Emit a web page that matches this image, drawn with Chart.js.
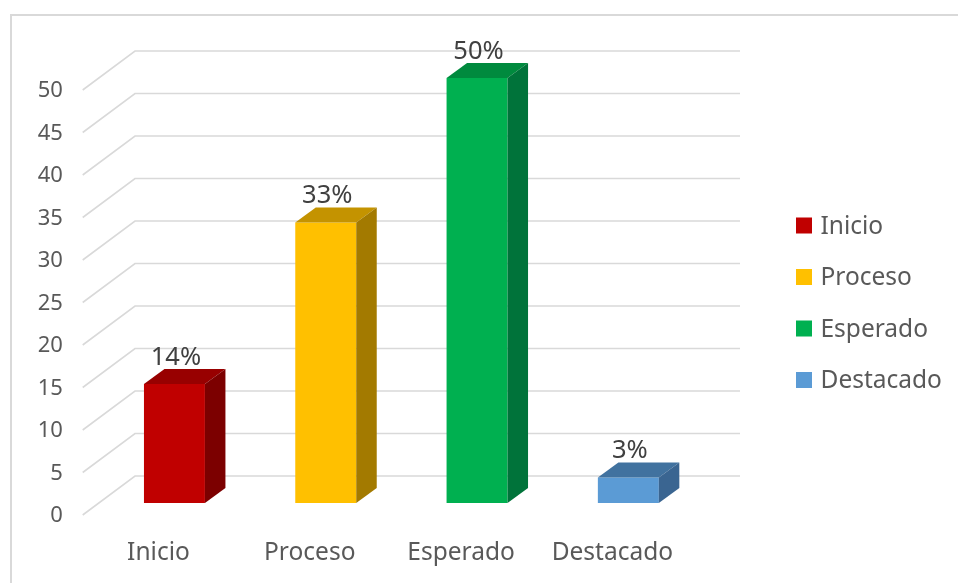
<!DOCTYPE html>
<html>
<head>
<meta charset="utf-8">
<script src="https://cdn.jsdelivr.net/npm/chart.js@4/dist/chart.umd.min.js"></script>
<style>
  html, body { margin: 0; padding: 0; background: #ffffff; }
  #wrap { width: 958px; height: 583px; position: relative; }
</style>
</head>
<body>
<div id="wrap"><canvas id="c" width="958" height="583"></canvas></div>
<script>
// ---- data ----
const categories = ['Inicio', 'Proceso', 'Esperado', 'Destacado'];
const values = [14, 33, 50, 3];
const valueSuffix = '%';
const yMin = 0;
const yMax = 50;
const yStep = 5;

// ---- styles ----
const frontColors = ['#C00000', '#FFC000', '#00B050', '#5B9BD5'];
const topColors   = ['#980000', '#C49300', '#008A3E', '#41729F'];
const sideColors  = ['#7C0000', '#A37A00', '#00733A', '#3A6591'];
const textColor = '#595959';
const gridColor = '#d9d9d9';
const FONT = '"Noto Sans", "Open Sans", sans-serif';

// 3D geometry (pixel offsets)
const BAR_DX = 20.5, BAR_DY = 15;          // bar depth
const BACK_DX = 36, BACK_DY = 27;          // bar plane -> back wall
const FRONT_DX = -16.3, FRONT_DY = 12;     // bar plane -> front floor edge

const threeD = {
  id: 'threeD',
  beforeDraw(chart) {
    const ctx = chart.ctx;
    ctx.save();
    ctx.strokeStyle = gridColor;
    ctx.lineWidth = 2;
    ctx.beginPath();
    ctx.moveTo(11, 600);
    ctx.lineTo(11, 15);
    ctx.lineTo(970, 15);
    ctx.stroke();
    ctx.restore();
  },
  beforeDatasetsDraw(chart) {
    const ctx = chart.ctx;
    const ys = chart.scales.y;
    const area = chart.chartArea;
    ctx.save();
    ctx.strokeStyle = gridColor;
    ctx.lineWidth = 1.6;
    ys.ticks.forEach(t => {
      const py = ys.getPixelForValue(t.value);
      const frontX = 82.7, frontY = py + FRONT_DY;
      const backX = frontX + (BACK_DX - FRONT_DX), backY = py - BACK_DY;
      ctx.beginPath();
      ctx.moveTo(frontX, frontY);
      ctx.lineTo(backX, backY);
      ctx.lineTo(area.right + BACK_DX, backY);
      ctx.stroke();
    });
    ctx.restore();
  },
  afterDatasetsDraw(chart) {
    const ctx = chart.ctx;
    const meta = chart.getDatasetMeta(0);
    ctx.save();
    meta.data.forEach((bar, i) => {
      const p = bar.getProps(['x', 'y', 'base', 'width'], true);
      const L = p.x - p.width / 2, R = p.x + p.width / 2;
      const top = p.y, base = p.base;
      // top face
      ctx.fillStyle = topColors[i];
      ctx.beginPath();
      ctx.moveTo(L, top);
      ctx.lineTo(R, top);
      ctx.lineTo(R + BAR_DX, top - BAR_DY);
      ctx.lineTo(L + BAR_DX, top - BAR_DY);
      ctx.closePath();
      ctx.fill();
      // side face
      ctx.fillStyle = sideColors[i];
      ctx.beginPath();
      ctx.moveTo(R, top);
      ctx.lineTo(R + BAR_DX, top - BAR_DY);
      ctx.lineTo(R + BAR_DX, base - BAR_DY);
      ctx.lineTo(R, base);
      ctx.closePath();
      ctx.fill();
      // data label
      ctx.fillStyle = '#404040';
      ctx.font = '25.5px ' + FONT;
      ctx.textAlign = 'center';
      ctx.textBaseline = 'middle';
      ctx.fillText(values[i] + valueSuffix, p.x + 1.5, top - 26.5);
    });
    ctx.restore();
  },
  afterDraw(chart) {
    const ctx = chart.ctx;
    ctx.save();
    const rowY = [225.5, 277, 328.5, 380];
    categories.forEach((c, i) => {
      ctx.fillStyle = frontColors[i];
      ctx.fillRect(796, rowY[i] - 8, 16, 16);
      ctx.fillStyle = textColor;
      ctx.font = '24.5px ' + FONT;
      ctx.textAlign = 'left';
      ctx.textBaseline = 'middle';
      ctx.fillText(c, 820.5, rowY[i] + 1.5);
    });
    ctx.restore();
  }
};

new Chart(document.getElementById('c'), {
  type: 'bar',
  data: {
    labels: categories,
    datasets: [{
      data: values,
      backgroundColor: frontColors,
      borderWidth: 0,
      categoryPercentage: 1,
      barPercentage: 0.403
    }]
  },
  options: {
    responsive: false,
    animation: false,
    devicePixelRatio: 1,
    layout: { padding: { left: 0, top: 78, right: 254, bottom: 0 } },
    plugins: { legend: { display: false }, tooltip: { enabled: false } },
    scales: {
      x: {
        grid: { display: false, drawTicks: false },
        border: { display: false },
        ticks: { color: textColor, font: { family: FONT, size: 24.5 }, padding: 35, labelOffset: -16 },
        afterFit(s) { s.height = 80; }
      },
      y: {
        min: yMin, max: yMax,
        grid: { display: false, drawTicks: false },
        border: { display: false },
        ticks: { stepSize: yStep, color: textColor, font: { family: FONT, size: 22 }, padding: 36, labelOffset: 13 },
        afterFit(s) { s.width = 98.8; }
      }
    }
  },
  plugins: [threeD]
});
</script>
</body>
</html>
